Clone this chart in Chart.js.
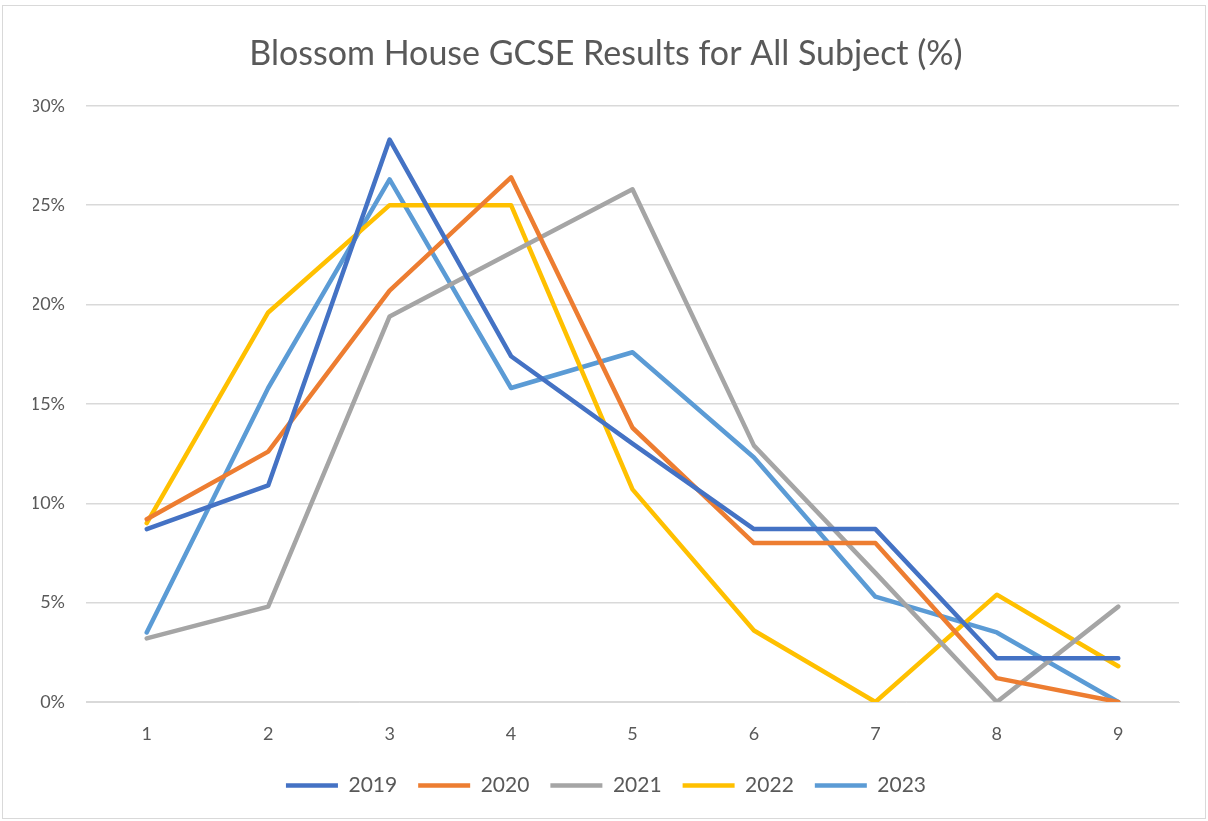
<!DOCTYPE html>
<html lang="en">
<head>
    <meta charset="UTF-8">
    <title>Blossom House GCSE Results</title>
    <script src="https://cdn.jsdelivr.net/npm/chart.js"></script>
    <style>
        html, body { margin: 0; padding: 0; background: #ffffff; }
        .frame {
            position: absolute;
            left: 2px; top: 5px;
            width: 1204px; height: 814px;
            border: 1px solid #d9d9d9;
            box-sizing: border-box;
        }
        #resultsChart { display: block; }
    </style>
</head>
<body>
    <div class="frame">
        <canvas id="resultsChart" width="1202" height="812"></canvas>
    </div>

    <script>
        const grades = ['1', '2', '3', '4', '5', '6', '7', '8', '9'];
        const yTicks = [0, 5, 10, 15, 20, 25, 30];

        const results2019 = [8.7, 10.9, 28.3, 17.4, 13.0, 8.7, 8.7, 2.2, 2.2];
        const results2020 = [9.2, 12.6, 20.7, 26.4, 13.8, 8.0, 8.0, 1.2, 0];
        const results2021 = [3.2, 4.8, 19.4, 22.6, 25.8, 12.9, 6.5, 0, 4.8];
        const results2022 = [9.0, 19.6, 25.0, 25.0, 10.7, 3.6, 0, 5.4, 1.8];
        const results2023 = [3.5, 15.8, 26.3, 15.8, 17.6, 12.3, 5.3, 3.5, 0];

        const textColor = '#595959';
        const gridColor = '#d9d9d9';
        const fontFamily = 'Lato, "Open Sans", sans-serif';

        function series(label, data, color) {
            return {
                label: label,
                data: data,
                borderColor: color,
                backgroundColor: color,
                borderWidth: 4.5,
                borderJoinStyle: 'round',
                borderCapStyle: 'round',
                pointStyle: 'line',
                pointRadius: 0,
                pointHoverRadius: 0,
                tension: 0,
                fill: false
            };
        }

        const ctx = document.getElementById('resultsChart').getContext('2d');
        new Chart(ctx, {
            type: 'line',
            data: {
                labels: grades,
                datasets: [
                    series('2019', results2019, '#4472c4'),
                    series('2020', results2020, '#ed7d31'),
                    series('2021', results2021, '#a5a5a5'),
                    series('2022', results2022, '#ffc000'),
                    series('2023', results2023, '#5b9bd5')
                ]
            },
            options: {
                responsive: false,
                animation: false,
                layout: {
                    padding: { left: 30, right: 26, top: 18, bottom: 12 }
                },
                plugins: {
                    title: {
                        display: true,
                        text: 'Blossom House GCSE Results for All Subject (%)',
                        color: textColor,
                        font: { family: fontFamily, size: 34, weight: 'normal' },
                        padding: { top: 10, bottom: 31 }
                    },
                    legend: {
                        position: 'bottom',
                        labels: {
                            color: textColor,
                            font: { family: fontFamily, size: 21 },
                            usePointStyle: true,
                            pointStyle: 'line',
                            pointStyleWidth: 52,
                            boxHeight: 4,
                            padding: 21
                        }
                    },
                    tooltip: { enabled: false }
                },
                scales: {
                    x: {
                        offset: true,
                        afterFit: function(scale) { scale.height = 52; },
                        grid: { display: false, drawTicks: false },
                        border: { display: true, color: gridColor, width: 1 },
                        ticks: {
                            color: textColor,
                            font: { family: fontFamily, size: 18 },
                            padding: 21
                        }
                    },
                    y: {
                        min: 0,
                        max: 30,
                        afterBuildTicks: function(axis) {
                            axis.ticks = yTicks.map(v => ({ value: v }));
                        },
                        afterFit: function(scale) { scale.width = 53; },
                        grid: { color: gridColor, lineWidth: 1.5, drawTicks: false },
                        border: { display: false },
                        ticks: {
                            color: textColor,
                            font: { family: fontFamily, size: 18 },
                            padding: 21,
                            callback: function(value) { return value + '%'; }
                        }
                    }
                }
            }
        });
    </script>
</body>
</html>
